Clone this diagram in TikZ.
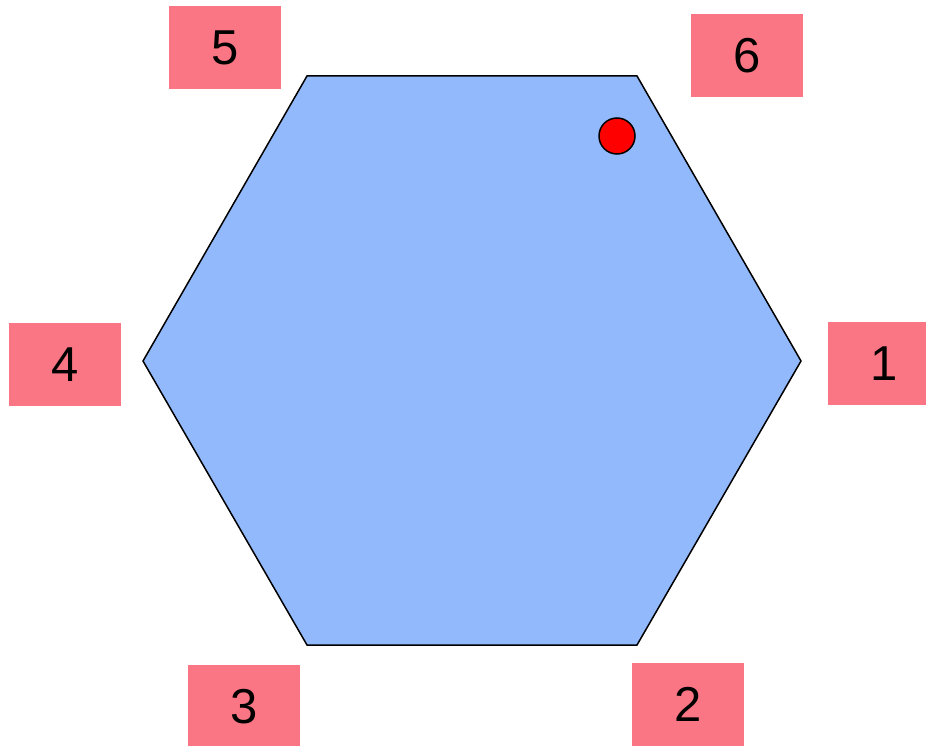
\documentclass[tikz,border=0pt]{standalone}
\usepackage{fontspec}
\setmainfont{Liberation Sans}
\definecolor{boxpink}{RGB}{251,118,132}
\definecolor{hexblue}{RGB}{146,185,252}
\begin{document}
\begin{tikzpicture}[x=1pt,y=-1pt,
  lab/.style={fill=boxpink,draw=none,minimum width=112pt,minimum height=83pt,inner sep=0pt,font=\fontsize{49}{49}\selectfont,anchor=north west}]
\clip (0,0) rectangle (926,746);
\useasboundingbox (0,0) rectangle (926,746);
\coordinate (v1) at (801,361);
\coordinate (v2) at (637,645);
\coordinate (v3) at (307,645);
\coordinate (v4) at (143,361);
\coordinate (v5) at (307,76);
\coordinate (v6) at (637,76);
\draw[fill=hexblue,line width=1.5pt,line join=miter] (v1) -- (v2) -- (v3) -- (v4) -- (v5) -- (v6) -- cycle;
\node[circle,fill=red,draw=black,line width=1.5pt,minimum size=36pt,inner sep=0pt] (dot) at (617,136) {};
\node[lab] (l5) at (169,6) {5};
\node[lab] (l6) at (691,14) {6};
\node[lab] (l1) at (828,322) {1};
\node[lab] (l4) at (9,323) {4};
\node[lab] (l3) at (188,665) {3};
\node[lab] (l2) at (632,663) {2};
\end{tikzpicture}
\end{document}
